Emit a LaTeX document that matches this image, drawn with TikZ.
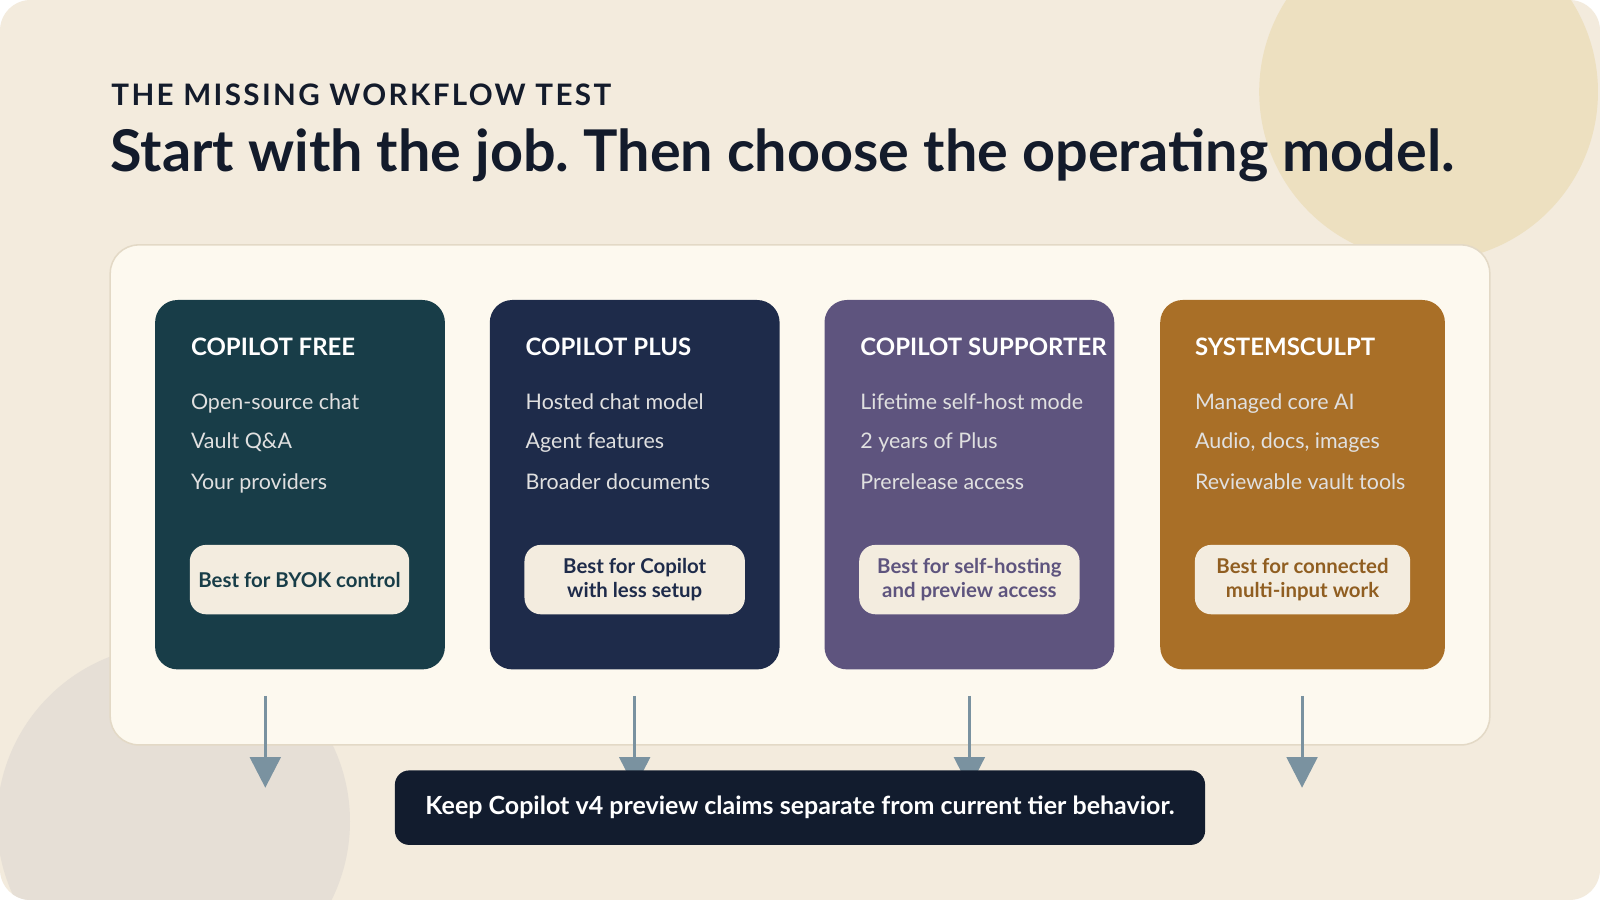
\documentclass[tikz,border=0pt]{standalone}
\usepackage{fontspec}
\setmainfont{Lato}
\frenchspacing
\usetikzlibrary{positioning,arrows.meta}
\definecolor{bgcream}{HTML}{F3EBDD}
\definecolor{circgold}{HTML}{EDE0C0}
\definecolor{circgrey}{HTML}{E6DFD6}
\definecolor{panelbg}{HTML}{FDF9EF}
\definecolor{panelline}{HTML}{E3D9C6}
\definecolor{tealcard}{HTML}{183D48}
\definecolor{navycard}{HTML}{1E2B4A}
\definecolor{purplecard}{HTML}{5E547E}
\definecolor{ambercard}{HTML}{A96F27}
\definecolor{chipbg}{HTML}{F3ECDF}
\definecolor{barbg}{HTML}{121C2E}
\definecolor{arrowcol}{HTML}{7A92A0}
\definecolor{inkdark}{HTML}{131B2B}

\tikzset{
  card/.style={rounded corners=22pt, minimum width=284pt, minimum height=362pt, inner sep=0pt},
  cardhead/.style={anchor=base west, inner sep=0pt, text=white, font=\fontsize{23.5}{27}\selectfont\bfseries},
  cardline/.style={anchor=base west, inner sep=0pt, text=white!88!black, font=\fontsize{21}{24}\selectfont},
  chip/.style={fill=chipbg, rounded corners=16pt, minimum height=68pt, inner sep=0pt, align=center,
    font=\fontsize{20}{24}\selectfont\bfseries},
  flow/.style={draw=arrowcol, line width=3pt, -{Triangle[width=30pt,length=30pt]}}
}

\begin{document}
\begin{tikzpicture}[x=1pt,y=-1pt]
                % Background
                \fill[white] (0,0) rectangle (1568,882);
                \useasboundingbox (0,0) rectangle (1568,882);
                \begin{scope}
                  \clip[rounded corners=30pt] (0,0) rectangle (1568,882);
                  \fill[bgcream] (0,0) rectangle (1568,882);
                  \fill[circgold] (1400,90) circle (166);
                  \fill[circgrey] (170,805) circle (173);
                \end{scope}

                % Heading
                \node[anchor=base west, inner sep=0pt, text=inkdark, font=\fontsize{29}{32}\selectfont\bfseries] (kicker) at (109,103)
                  {\addfontfeature{LetterSpace=8}THE MISSING WORKFLOW TEST};
                \node[anchor=base west, inner sep=0pt, text=inkdark, font=\fontsize{56.4}{60}\selectfont\bfseries] (title) at (108,168)
                  {Start with the job. Then choose the operating model.};

                % Panel
                \node[fill=panelbg, draw=panelline, line width=1.5pt, rounded corners=28pt,
                      minimum width=1352pt, minimum height=490pt] (panel) at (784,485) {};

                % Cards
                \node[card, fill=tealcard]   (free)   at (294,475) {};
                \node[card, fill=navycard]   (plus)   at (622,475) {};
                \node[card, fill=purplecard] (supp)   at (950,475) {};
                \node[card, fill=ambercard, minimum width=279pt] (sculpt) at (1276.5,475) {};

                \node[cardhead] at (187,348) {COPILOT FREE};
                \node[cardline] at (187,401) {Open-source chat};
                \node[cardline] at (187,440) {Vault Q\&A};
                \node[cardline] at (187,480) {Your providers};

                \node[cardhead] at (515,348) {COPILOT PLUS};
                \node[cardline] at (515,401) {Hosted chat model};
                \node[cardline] at (515,440) {Agent features};
                \node[cardline] at (515,480) {Broader documents};

                \node[cardhead] at (843,348) {COPILOT SUPPORTER};
                \node[cardline] at (843,401) {Lifetime self-host mode};
                \node[cardline] at (843,440) {2 years of Plus};
                \node[cardline] at (843,480) {Prerelease access};

                \node[cardhead] at (1171,348) {SYSTEMSCULPT};
                \node[cardline] at (1171,401) {Managed core AI};
                \node[cardline] at (1171,440) {Audio, docs, images};
                \node[cardline] at (1171,480) {Reviewable vault tools};

                % Chips
                \node[chip, minimum width=215pt, text=tealcard]   (chipfree)   at (293.5,568) {Best for BYOK control};
                \node[chip, minimum width=216pt, text=navycard]   (chipplus)   at (622,568) {Best for Copilot\\with less setup};
                \node[chip, minimum width=216pt, text=purplecard] (chipsupp)   at (950,568) {Best for self-hosting\\and preview access};
                \node[chip, minimum width=211pt, text=ambercard!85!black] (chipsculpt) at (1276.5,568) {Best for connected\\multi-input work};

                % Arrows
                \coordinate (endfree)   at (260,772);
                \coordinate (endplus)   at (622,772);
                \coordinate (endsupp)   at (950,772);
                \coordinate (endsculpt) at (1276,772);
                \draw[flow] (260,682) -- (endfree);
                \draw[flow] (622,682) -- (endplus);
                \draw[flow] (950,682) -- (endsupp);
                \draw[flow] (1276,682) -- (endsculpt);

                % Bottom note
                \node[fill=barbg, rounded corners=14pt, minimum width=794pt, minimum height=73pt,
                      text=white, font=\fontsize{24.5}{27}\selectfont\bfseries] (note) at (784,791.5)
                  {Keep Copilot v4 preview claims separate from current tier behavior.};
\end{tikzpicture}
\end{document}
